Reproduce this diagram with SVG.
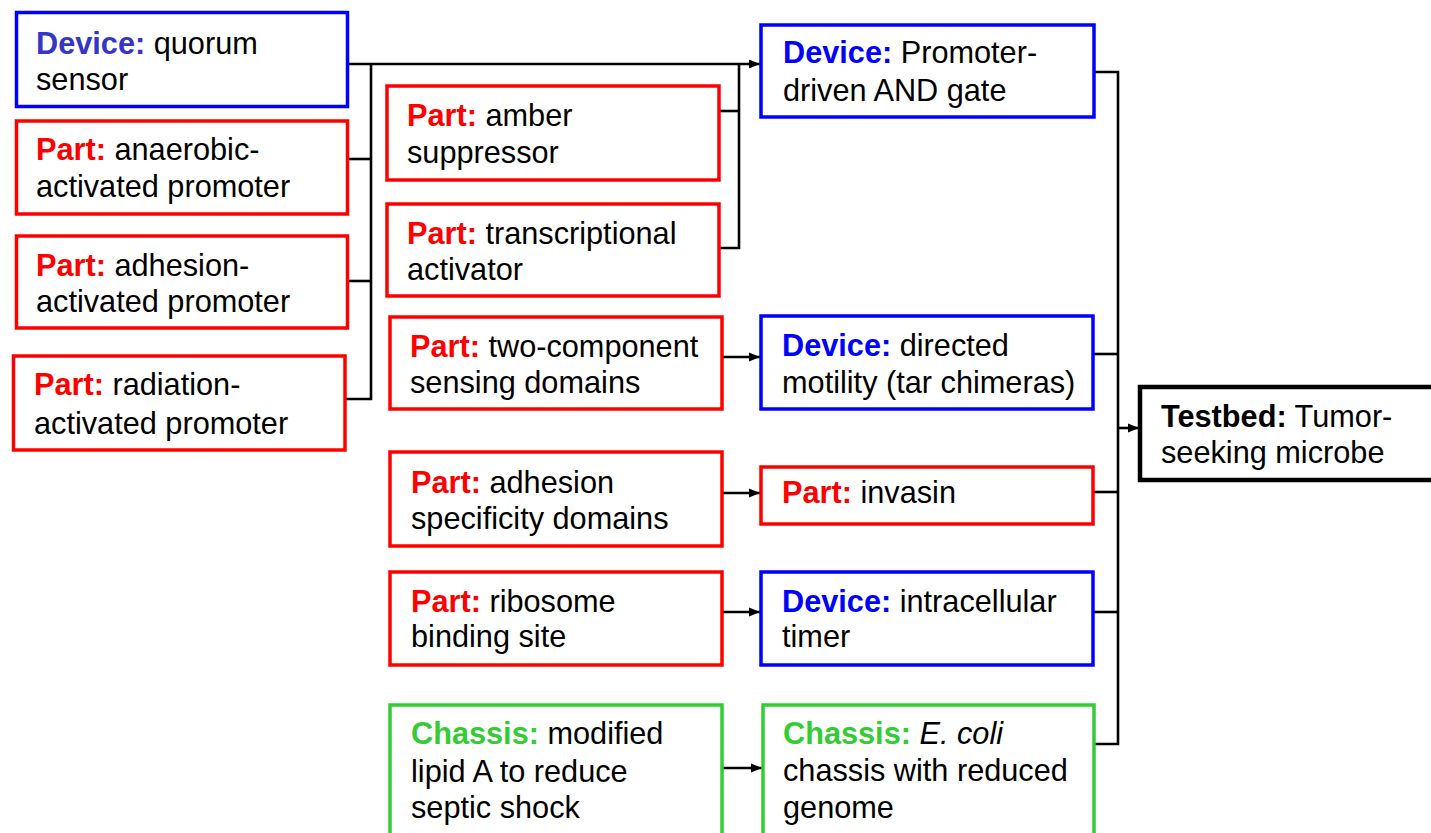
<svg xmlns="http://www.w3.org/2000/svg" width="1431" height="833" viewBox="0 0 1431 833">
  <style>
    .box { fill: #ffffff; stroke-width: 3.5; }
    .dev { stroke: #0000ff; }
    .part { stroke: #ff0000; }
    .chas { stroke: #33cc33; }
    .test { stroke: #000000; stroke-width: 4.5; }
    text { font-family: "Liberation Sans", Arial, sans-serif; font-size: 30.7px; fill: #000000; }
    .b { font-weight: bold; }
    .kd { fill: #0000ff; }
    .kd0 { fill: #3535c8; }
    .kp { fill: #ff0000; }
    .kc { fill: #33cc33; }
    .link { fill: none; stroke: #000000; stroke-width: 2.6; }
  </style>
  <defs>
    <marker id="arrow" markerUnits="userSpaceOnUse" markerWidth="12" markerHeight="10" refX="11" refY="5" orient="auto">
      <path d="M0,0.5 L11,5 L0,9.5 Z" fill="#000000"/>
    </marker>
  </defs>

  <rect width="1431" height="833" fill="#ffffff"/>

  <!-- connectors -->
  <g id="connectors">
    <path class="link" d="M347.5,64 H760" marker-end="url(#arrow)"/>
    <path class="link" d="M371,64 V399 H345"/>
    <path class="link" d="M347.5,159 H371"/>
    <path class="link" d="M347.5,281 H371"/>
    <path class="link" d="M719,111 H739"/>
    <path class="link" d="M719,248 H739 V64"/>
    <path class="link" d="M722,357 H760" marker-end="url(#arrow)"/>
    <path class="link" d="M722,493 H760" marker-end="url(#arrow)"/>
    <path class="link" d="M722,612 H760" marker-end="url(#arrow)"/>
    <path class="link" d="M722,768 H762" marker-end="url(#arrow)"/>
    <path class="link" d="M1094,72 H1118 V744 H1094"/>
    <path class="link" d="M1093,354 H1118"/>
    <path class="link" d="M1093,492 H1118"/>
    <path class="link" d="M1093,612 H1118"/>
    <path class="link" d="M1118,428 H1139" marker-end="url(#arrow)"/>
  </g>

  <!-- left column -->
  <g id="quorum-sensor">
    <rect class="box dev" x="16.5" y="12.5" width="331" height="94"/>
    <text x="36" y="54"><tspan class="b kd0">Device:</tspan> quorum</text>
    <text x="36" y="90">sensor</text>
  </g>
  <g id="anaerobic-promoter">
    <rect class="box part" x="16.5" y="121" width="331" height="93"/>
    <text x="36" y="160"><tspan class="b kp">Part:</tspan> anaerobic-</text>
    <text x="36" y="197">activated promoter</text>
  </g>
  <g id="adhesion-promoter">
    <rect class="box part" x="16.5" y="236" width="331" height="92"/>
    <text x="36" y="276"><tspan class="b kp">Part:</tspan> adhesion-</text>
    <text x="36" y="312">activated promoter</text>
  </g>
  <g id="radiation-promoter">
    <rect class="box part" x="13.5" y="356" width="331.5" height="94"/>
    <text x="34" y="395"><tspan class="b kp">Part:</tspan> radiation-</text>
    <text x="34" y="434">activated promoter</text>
  </g>

  <!-- middle column -->
  <g id="amber-suppressor">
    <rect class="box part" x="387" y="86" width="332" height="94"/>
    <text x="407" y="126"><tspan class="b kp">Part:</tspan> amber</text>
    <text x="407" y="163">suppressor</text>
  </g>
  <g id="transcriptional-activator">
    <rect class="box part" x="387" y="204" width="332" height="92"/>
    <text x="407" y="244"><tspan class="b kp">Part:</tspan> transcriptional</text>
    <text x="407" y="280">activator</text>
  </g>
  <g id="two-component">
    <rect class="box part" x="390" y="317" width="332" height="92"/>
    <text x="410" y="357"><tspan class="b kp">Part:</tspan> two-component</text>
    <text x="410" y="393">sensing domains</text>
  </g>
  <g id="adhesion-specificity">
    <rect class="box part" x="390" y="452" width="332" height="94"/>
    <text x="411" y="493"><tspan class="b kp">Part:</tspan> adhesion</text>
    <text x="411" y="529">specificity domains</text>
  </g>
  <g id="ribosome-binding-site">
    <rect class="box part" x="390" y="572" width="332" height="93"/>
    <text x="411" y="612"><tspan class="b kp">Part:</tspan> ribosome</text>
    <text x="411" y="647">binding site</text>
  </g>
  <g id="modified-lipid-a">
    <rect class="box chas" x="390" y="705" width="332" height="130"/>
    <text x="411" y="744"><tspan class="b kc">Chassis:</tspan> modified</text>
    <text x="411" y="782">lipid A to reduce</text>
    <text x="411" y="818">septic shock</text>
  </g>

  <!-- right column -->
  <g id="and-gate">
    <rect class="box dev" x="761" y="25" width="333" height="92"/>
    <text x="783" y="63"><tspan class="b kd">Device:</tspan> Promoter-</text>
    <text x="783" y="101">driven AND gate</text>
  </g>
  <g id="directed-motility">
    <rect class="box dev" x="761" y="316" width="332" height="93"/>
    <text x="782" y="356"><tspan class="b kd">Device:</tspan> directed</text>
    <text x="782" y="393">motility (tar chimeras)</text>
  </g>
  <g id="invasin">
    <rect class="box part" x="761" y="467" width="332" height="57"/>
    <text x="782" y="503"><tspan class="b kp">Part:</tspan> invasin</text>
  </g>
  <g id="intracellular-timer">
    <rect class="box dev" x="761" y="572" width="332" height="93"/>
    <text x="782" y="612"><tspan class="b kd">Device:</tspan> intracellular</text>
    <text x="782" y="647">timer</text>
  </g>
  <g id="ecoli-chassis">
    <rect class="box chas" x="763" y="705" width="331" height="130"/>
    <text x="783" y="744"><tspan class="b kc">Chassis:</tspan> <tspan font-style="italic">E. coli</tspan></text>
    <text x="783" y="781">chassis with reduced</text>
    <text x="783" y="818">genome</text>
  </g>

  <!-- final target -->
  <g id="testbed">
    <rect class="box test" x="1140" y="387" width="300" height="93"/>
    <text x="1161" y="427"><tspan class="b">Testbed:</tspan> Tumor-</text>
    <text x="1161" y="463">seeking microbe</text>
  </g>
</svg>
